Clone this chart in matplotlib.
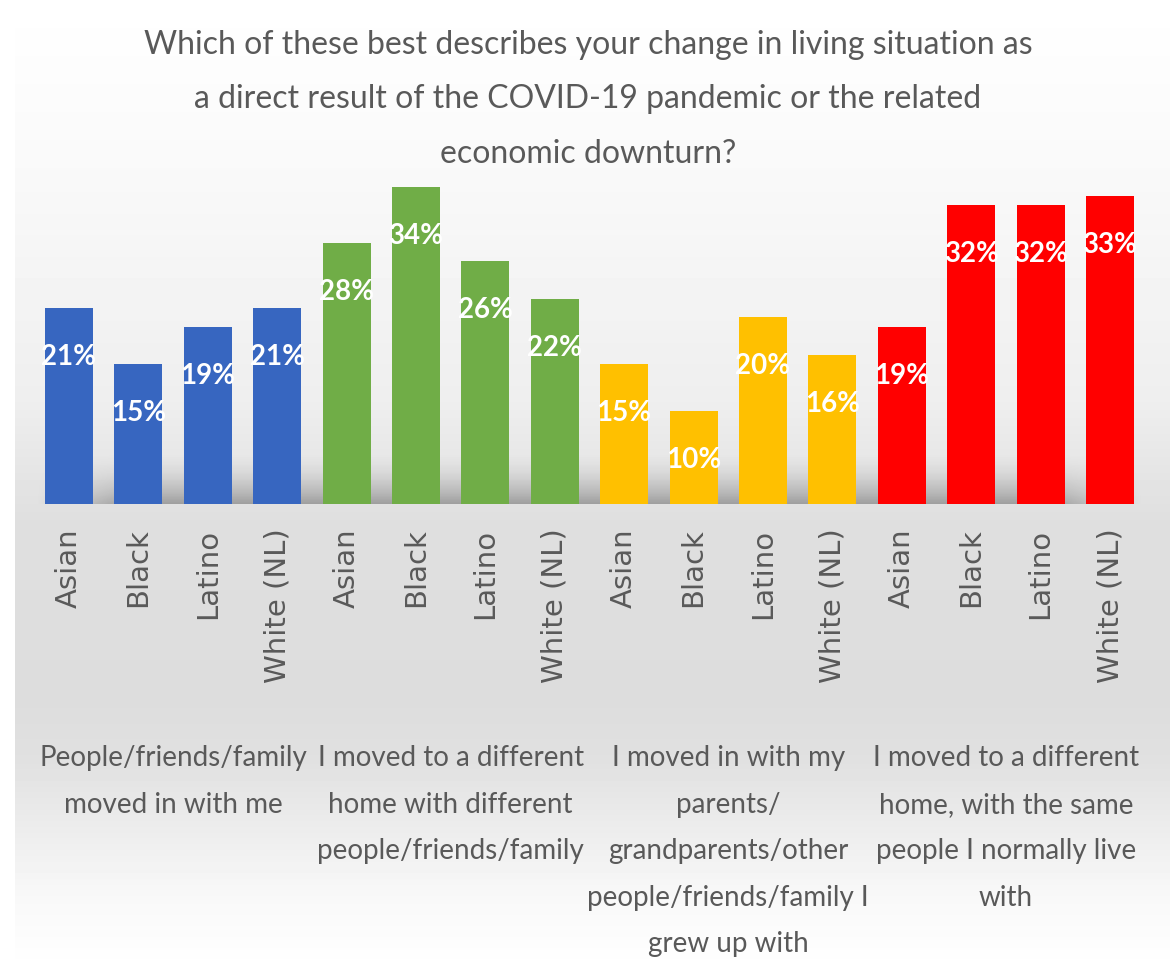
import numpy as np
import matplotlib.pyplot as plt
from matplotlib.transforms import blended_transform_factory

plt.rcParams['font.family'] = ['Lato', 'DejaVu Sans']

# survey answers, one group per answer, four groups of respondents each
groups = [
    "People/friends/family\nmoved in with me",
    "I moved to a different\nhome with different\npeople/friends/family",
    "I moved in with my\nparents/\ngrandparents/other\npeople/friends/family I\ngrew up with",
    "I moved to a different\nhome, with the same\npeople I normally live\nwith",
]
races = ["Asian", "Black", "Latino", "White (NL)"]
moved_in_with_me = [21, 15, 19, 21]
moved_different_people = [28, 34, 26, 22]
moved_in_with_parents = [15, 10, 20, 16]
moved_same_people = [19, 32, 32, 33]
group_colors = ["#3766c0", "#70ad47", "#ffc000", "#ff0000"]

series = [moved_in_with_me, moved_different_people, moved_in_with_parents, moved_same_people]
values = [v for s in series for v in s]
labels = races * len(groups)
colors = [c for c in group_colors for _ in races]
x = np.arange(len(values))

W, H = 1176, 970
fig = plt.figure(figsize=(W / 100, H / 100), dpi=100)
fig.patch.set_facecolor("white")

# grey backdrop: light at the top, darker behind the labels, fading out again at the bottom
bg = fig.add_axes([15 / W, 0, 1 - 21 / W, 1], zorder=-2)
ys = np.array([0, 180, 400, 520, 700, 760, 900, 970])
vs = np.array([1.0, 0.975, 0.935, 0.875, 0.865, 0.88, 0.975, 1.0])
col = np.interp(np.arange(H), ys, vs)
bg.imshow(np.tile(col[:, None], (1, 64)), cmap="gray", vmin=0, vmax=1,
          aspect="auto", extent=[0, 1, 0, 1], origin="upper", interpolation="nearest")
bg.axis("off")

step = 69.4
left = 69 - step / 2
base = 505
ppu = 9.33  # pixels per percentage point
top_val = 36
ax = fig.add_axes([left / W, (H - base) / H, len(values) * step / W, top_val * ppu / H])
ax.patch.set_alpha(0)

# soft shadow along the base of the bars: darkest at the bottom, fading upwards and at both ends
ramp = np.linspace(1, 0, 80) ** 2
ends = np.clip(np.minimum(np.linspace(0, 1, 200), np.linspace(1, 0, 200)) * 12, 0, 1)
shade_img = np.zeros((80, 200, 4))
shade_img[..., 3] = 0.3 * ramp[:, None] * ends[None, :]
ax.imshow(shade_img, extent=[-0.5, len(values) - 0.5, 0, 6], aspect="auto",
          origin="lower", zorder=1, interpolation="bilinear")
ax.set_xlim(-0.5, len(values) - 0.5)
ax.set_ylim(0, top_val)

bars = ax.bar(x, values, width=0.69, color=colors, zorder=2)
for b, v in zip(bars, values):
    ax.annotate(f"{v}%", (b.get_x() + b.get_width() / 2, v), xytext=(0, -48),
                textcoords="offset pixels", ha="center", va="center",
                color="white", fontsize=20, fontweight="bold", zorder=3)

ax.set_xticks(x)
ax.set_xticklabels(labels, rotation=90, fontsize=21, color="#595959",
                   family="DejaVu Sans", va="top")
ax.tick_params(axis="x", length=0, pad=17)
ax.set_yticks([])
for s in ax.spines.values():
    s.set_visible(False)

# answer text under each group of four bars
trans = blended_transform_factory(ax.transData, fig.transFigure)
for i, g in enumerate(groups):
    ax.text(i * 4 + 1.5, (H - 745) / H, g, transform=trans, ha="center", va="top",
            fontsize=20, color="#595959", linespacing=1.98)

fig.text(0.5, (H - 30) / H,
         "Which of these best describes your change in living situation as\n"
         "a direct result of the COVID-19 pandemic or the related\n"
         "economic downturn?",
         ha="center", va="top", fontsize=23, color="#595959", linespacing=2.02)

fig.savefig("out.png", dpi=100)
